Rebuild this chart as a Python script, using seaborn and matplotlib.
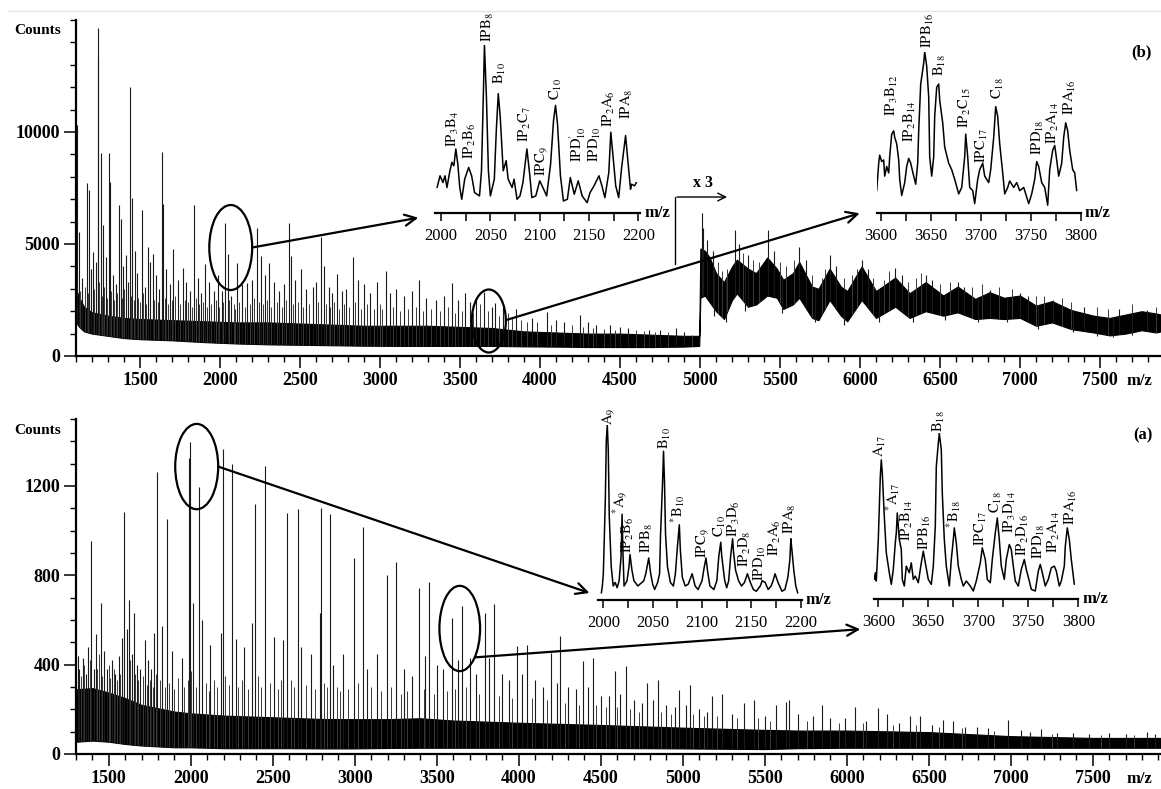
import matplotlib
matplotlib.use("Agg")
import matplotlib.pyplot as plt
from matplotlib.patches import Ellipse
from matplotlib.lines import Line2D
from matplotlib.ticker import MultipleLocator
import numpy as np
import seaborn as sns

sns.set_theme(style="ticks")
plt.rcParams["font.family"] = ["Liberation Serif", "DejaVu Serif"]
plt.rcParams["mathtext.fontset"] = "stix"
for key in ("axes.edgecolor", "xtick.color", "ytick.color", "text.color", "axes.labelcolor"):
    plt.rcParams[key] = "black"

# ---------------------------------------------------------------- spectrum (b)
# dense noise band of the spectrum: m/z, lower and upper counts
b_band_mz = [1100, 1120, 1150, 1200, 1300, 1400, 1500, 1700, 1900, 2100, 2300, 2500, 2700,
             2900, 3100, 3300, 3500, 3700, 3900, 4100, 4300, 4500, 4700, 4900, 4995,
             5002, 5030, 5060, 5100, 5150, 5200, 5230, 5300, 5350, 5420, 5480, 5520, 5580,
             5620, 5700, 5740, 5810, 5880, 5920, 6010, 6100, 6220, 6310, 6410, 6520, 6610,
             6720, 6810, 6900, 7000, 7100, 7200, 7320, 7460, 7560, 7660, 7760, 7850, 7881]
b_band_lo = [1500, 1300, 1100, 1000, 900, 800, 750, 700, 620, 560, 520, 500, 480,
             460, 450, 450, 450, 450, 430, 420, 400, 400, 400, 420, 450,
             2600, 2700, 2400, 2000, 1650, 2500, 2800, 2200, 2300, 2700, 2600, 2100, 2300,
             2600, 1700, 1600, 2500, 1800, 1550, 2500, 1700, 2200, 1700, 2000, 1800, 1950,
             1650, 1700, 1650, 1700, 1350, 1500, 1200, 1050, 920, 1000, 1150, 1050, 1100]
b_band_hi = [3000, 2600, 2200, 1950, 1800, 1700, 1650, 1600, 1550, 1500, 1500, 1450, 1400,
             1350, 1350, 1350, 1300, 1250, 1100, 1050, 1000, 1000, 950, 900, 900,
             4800, 4700, 4400, 3700, 3300, 4000, 4300, 3900, 3700, 4400, 3900, 3400, 3700,
             4200, 3100, 3000, 3900, 3100, 2900, 4000, 2900, 3500, 2800, 3300, 2700, 3100,
             2550, 2850, 2600, 2700, 2250, 2450, 2050, 1800, 1700, 1850, 2000, 1900, 1850]
# resolved peaks of spectrum (b)
b_peak_mz = [1108, 1117, 1140, 1167, 1183, 1195, 1208, 1225, 1237, 1239, 1254, 1267, 1285,
             1308, 1310, 1330, 1350, 1367, 1379, 1395, 1412, 1425, 1437, 1452, 1469, 1480,
             1510, 1530, 1552, 1565, 1579, 1600, 1620, 1635, 1644, 1665, 1690, 1708, 1740,
             1767, 1790, 1815, 1837, 1860, 1880, 1906, 1930, 1960, 1985, 2010, 2033, 2048,
             2070, 2108, 2140, 2171, 2200, 2233, 2258, 2280, 2308, 2340, 2370, 2400, 2433,
             2446, 2470, 2506, 2540, 2580, 2600, 2631, 2648, 2680, 2700, 2733, 2760, 2790,
             2829, 2860, 2900, 2940, 2980, 3035, 3060, 3100, 3150, 3200, 3246, 3290, 3350,
             3400, 3452, 3490, 3529, 3560, 3600, 3652, 3700, 3721, 3770, 3850, 3950, 4042,
             4100, 4150, 4248, 4300, 4350, 4440, 4500, 4550, 4684, 4750, 4851, 4900,
             5010, 5020, 5045, 5080, 5219, 5245, 5300, 5426, 5460, 5621, 5660, 5812, 5850,
             6010, 6050, 6219, 6260, 6412, 6450, 6612, 6650, 6812, 7000, 7050, 7207, 7400,
             7620, 7791]
b_peak_counts = [10310, 5550, 3500, 7720, 7410, 3900, 4640, 4200, 14630, 13370, 9060, 5850, 4400,
                 9060, 7760, 3600, 3200, 6740, 6100, 4000, 4500, 3300, 12020, 7050, 4690, 3700,
                 6520, 3100, 4880, 4200, 4570, 3600, 3000, 9120, 6800, 3900, 3200, 4780, 3400,
                 3950, 3300, 2900, 6740, 3500, 2800, 4100, 3300, 2900, 3600, 2900, 5930, 4560,
                 2700, 4170, 3200, 3280, 3400, 5700, 4460, 3600, 4160, 3300, 2900, 3200, 5950,
                 4470, 3400, 3880, 3000, 3100, 3300, 5330, 4040, 3100, 2800, 3660, 2900, 3000,
                 4430, 3390, 3200, 2800, 3300, 3800, 2800, 3000, 2700, 2900, 3390, 2600, 2500,
                 2700, 3245, 2500, 2800, 2400, 2600, 2870, 2200, 2380, 2200, 2080, 1700, 1980,
                 1600, 1500, 1830, 1500, 1400, 1380, 1300, 1250, 1160, 1150, 1230, 1050,
                 6380, 5700, 5200, 4700, 5620, 5000, 4500, 5620, 4700, 4880, 4300, 4510, 4000,
                 4290, 3900, 3930, 3600, 3620, 3400, 3320, 3100, 2950, 2810, 2700, 2500, 2200,
                 2100, 2050]
# unresolved small peaks riding on the noise band of (b)
b_minor_mz = [1125, 1158, 1175, 1215, 1245, 1260, 1275, 1295, 1320, 1340, 1358, 1388, 1403,
              1445, 1460, 1490, 1500, 1520, 1540, 1590, 1610, 1655, 1675, 1700, 1720, 1750,
              1780, 1800, 1825, 1848, 1870, 1895, 1918, 1945, 1972, 1995, 2020, 2058, 2085,
              2095, 2120, 2155, 2185, 2215, 2245, 2268, 2295, 2320, 2355, 2385, 2415, 2458,
              2485, 2520, 2555, 2615, 2660, 2690, 2715, 2745, 2775, 2805, 2845, 2880, 2920,
              2960, 3000, 3015, 3080, 3125, 3175, 3225, 3270, 3320, 3375, 3425, 3470, 3510,
              3580, 3625, 3675, 3745, 3800, 3825, 3880, 3920, 3980, 4070, 4200, 4270, 4330,
              4400, 4470, 4600, 4650, 4720, 4800, 4950,
              5110, 5140, 5170, 5270, 5330, 5370, 5500, 5540, 5590, 5700, 5760, 5780, 5900,
              5950, 5980, 6080, 6150, 6180, 6300, 6350, 6380, 6500, 6560, 6700, 6760, 6870,
              6950, 7100, 7150, 7260, 7320, 7480, 7550, 7700, 7850]
b_minor_counts = [2900, 3100, 2800, 3000, 3300, 2700, 3100, 2600, 2900, 2500, 2800, 2600, 3000,
                  2700, 2500, 2600, 2400, 2800, 2300, 2500, 2400, 2600, 2300, 2500, 2700, 2300,
                  2500, 2400, 2200, 2600, 2300, 2400, 2200, 2300, 2500, 2200, 2400, 2500, 2300,
                  2100, 2400, 2200, 2300, 2600, 2400, 2300, 2500, 2200, 2400, 2200, 2500, 2300,
                  2400, 2200, 2300, 2400, 2300, 2200, 2400, 2100, 2300, 2200, 2400, 2100, 2300,
                  2100, 2300, 2100, 2200, 2000, 2100, 2200, 2000, 2100, 2000, 2200, 1900, 2000,
                  1900, 2300, 2000, 1800, 1900, 1700, 1600, 1500, 1500, 1400, 1400, 1300, 1250,
                  1200, 1150, 1150, 1100, 1050, 1050, 950,
                  4200, 3800, 3900, 4600, 4300, 4200, 4200, 4000, 4300, 3600, 3500, 3900, 3500,
                  3600, 3900, 3500, 3400, 3800, 3300, 3500, 3700, 3200, 3300, 3100, 3200, 3100,
                  3000, 2700, 2700, 2600, 2400, 2200, 2100, 2300, 2200]
# troughs reaching below the noise band of (b)
b_dip_mz = [5090, 5160, 5280, 5510, 5720, 5900, 6120, 6330, 6530, 6740, 6920, 7110, 7330,
            7480, 7580, 7700]
b_dip_counts = [1800, 1500, 2000, 1900, 1500, 1400, 1500, 1500, 1600, 1500, 1500, 1200, 1050,
                900, 850, 950]

# ---------------------------------------------------------------- spectrum (a)
a_band_mz = [1300, 1400, 1500, 1600, 1700, 1800, 1900, 2000, 2200, 2400, 2600, 2800, 3000,
             3200, 3400, 3600, 4000, 4500, 5000, 5500, 5700, 6000, 6500, 7000, 7500, 7916]
a_band_lo = [55, 60, 55, 45, 38, 34, 30, 30, 26, 26, 26, 25, 25,
             27, 28, 28, 28, 27, 25, 22, 26, 28, 28, 28, 28, 28]
a_band_hi = [290, 295, 275, 250, 220, 205, 190, 182, 172, 167, 162, 157, 156,
             156, 160, 150, 140, 130, 118, 108, 105, 105, 98, 80, 72, 72]
a_peak_mz = [1310, 1320, 1340, 1360, 1375, 1393, 1410, 1423, 1450, 1470, 1490, 1520, 1540,
             1560, 1580, 1595, 1610, 1622, 1640, 1651, 1670, 1690, 1721, 1740, 1760, 1777,
             1796, 1822, 1853, 1883, 1944, 1991, 1994, 2011, 2052, 2069, 2120, 2182, 2194,
             2253, 2273, 2325, 2372, 2393, 2453, 2508, 2565, 2589, 2652, 2675, 2735, 2786,
             2792, 2849, 2870, 2930, 2993, 3052, 3074, 3135, 3194, 3249, 3300, 3350, 3393,
             3430, 3454, 3500, 3540, 3595, 3630, 3652, 3700, 3740, 3794, 3820, 3849, 3900,
             3940, 3991, 4020, 4048, 4100, 4150, 4197, 4230, 4251, 4300, 4350, 4390, 4420,
             4451, 4500, 4550, 4587, 4620, 4652, 4700, 4750, 4784, 4820, 4847, 4900, 4950,
             4979, 5020, 5044, 5100, 5150, 5176, 5241, 5300, 5374, 5433, 5500, 5570, 5632,
             5650, 5700, 5792, 5847, 5900, 5991, 6050, 6120, 6193, 6243, 6320, 6386, 6447,
             6520, 6589, 6650, 6720, 6793, 6860, 6985, 7060, 7120, 7185, 7280, 7380, 7480,
             7600, 7700, 7829, 7880]
a_peak_counts = [440, 380, 430, 360, 480, 954, 380, 537, 674, 460, 380, 420, 360,
                 440, 520, 1082, 560, 690, 450, 633, 400, 380, 512, 420, 380, 543,
                 1264, 572, 1052, 462, 430, 1324, 1399, 677, 1194, 602, 490, 543, 1366,
                 1299, 517, 480, 587, 1119, 1291, 525, 510, 1081, 1097, 480, 450, 630,
                 1101, 1074, 400, 450, 879, 1017, 380, 450, 800, 860, 380, 350, 745,
                 440, 770, 400, 380, 610, 420, 662, 430, 360, 632, 430, 670, 360,
                 330, 482, 360, 490, 330, 300, 452, 320, 527, 300, 290, 415, 300,
                 430, 260, 260, 370, 270, 392, 240, 230, 318, 240, 333, 220, 210,
                 288, 220, 310, 200, 190, 258, 270, 180, 228, 240, 170, 220, 235,
                 243, 180, 168, 220, 160, 160, 210, 150, 205, 180, 140, 168, 168,
                 130, 153, 150, 120, 123, 115, 153, 108, 100, 110, 95, 93, 90,
                 95, 88, 100, 90]
a_minor_mz = [1330, 1350, 1385, 1430, 1440, 1460, 1500, 1510, 1530, 1550, 1570, 1630, 1660,
              1680, 1710, 1730, 1750, 1770, 1790, 1810, 1840, 1870, 1900, 1920, 1960, 1980,
              2000, 2030, 2090, 2110, 2140, 2160, 2210, 2230, 2290, 2310, 2350, 2410, 2430,
              2480, 2530, 2550, 2610, 2630, 2700, 2760, 2810, 2830, 2890, 2910, 2960, 3020,
              3100, 3160, 3220, 3280, 3320, 3420, 3480, 3560, 3610, 3680, 3760, 3880, 3960,
              4080, 4170, 4280, 4370, 4470, 4530, 4600, 4680, 4730, 4870, 4930, 5060, 5130,
              5210, 5330, 5460, 5530, 5760, 5950, 6100, 6280, 6420, 6560, 6700, 6900, 7250,
              7550, 7750]
a_minor_counts = [350, 400, 420, 380, 450, 350, 400, 340, 380, 330, 360, 420, 360,
                  330, 350, 310, 330, 300, 360, 330, 300, 320, 290, 340, 300, 330,
                  370, 300, 320, 280, 330, 300, 350, 310, 300, 330, 290, 350, 300,
                  320, 290, 330, 330, 300, 310, 290, 320, 300, 300, 280, 290, 320,
                  300, 280, 300, 270, 280, 290, 270, 280, 290, 300, 270, 260, 250,
                  250, 240, 230, 220, 220, 210, 210, 200, 190, 190, 180, 180, 170,
                  170, 160, 160, 150, 150, 140, 140, 130, 130, 120, 115, 105, 90,
                  85, 85]

# ---------------------------------------------------------------- expanded regions
# (b) 2000-2200
b1_mz = [1996, 1999, 2002, 2004, 2006, 2009, 2011, 2013, 2015, 2017, 2019, 2021, 2024, 2028,
         2031, 2034, 2039, 2041, 2043, 2044, 2046, 2048, 2050, 2054, 2056, 2058, 2060, 2063,
         2066, 2068, 2072, 2074, 2077, 2080, 2083, 2087, 2090, 2092, 2096, 2100, 2104, 2107,
         2111, 2114, 2116, 2118, 2121, 2124, 2128, 2131, 2135, 2139, 2143, 2148, 2151, 2155,
         2160, 2163, 2166, 2170, 2172, 2175, 2177, 2180, 2183, 2187, 2189, 2192, 2193, 2196, 2198]
b1_int = [15, 22, 18, 22, 15, 25, 30, 28, 38, 29, 15, 8, 20, 27,
          22, 12, 10, 25, 73, 100, 69, 25, 10, 20, 49, 71, 57, 25,
          31, 20, 15, 20, 8, 10, 18, 38, 22, 9, 10, 19, 14, 10,
          29, 55, 64, 53, 22, 7, 8, 21, 11, 19, 10, 6, 12, 16,
          22, 16, 9, 24, 48, 29, 16, 9, 27, 46, 33, 14, 17, 16, 18]
b1_labels = [r"$\mathrm{IP_3B_4}$", r"$\mathrm{IP_2B_6}$", r"$\mathrm{IPB_8}$", r"$\mathrm{B_{10}}$",
             r"$\mathrm{IP_2C_7}$", r"$\mathrm{IPC_9}$", r"$\mathrm{C_{10}}$",
             r"$\mathrm{IPD}^{\prime}_{10}$", r"$\mathrm{IPD_{10}}$", r"$\mathrm{IP_2A_6}$",
             r"$\mathrm{IPA_8}$"]
b1_label_mz = [2012, 2029, 2048, 2060, 2085, 2102, 2116, 2138, 2156, 2170, 2188]
b1_label_y = [39, 32, 102, 77, 42, 22, 67, 30, 30, 51, 56]

# (b) 3600-3800
b2_mz = [3596, 3598, 3599, 3601, 3603, 3604, 3606, 3608, 3609, 3611, 3613, 3614, 3616, 3618,
         3619, 3621, 3624, 3626, 3628, 3630, 3633, 3635, 3637, 3638, 3640, 3643, 3644, 3646,
         3648, 3649, 3651, 3653, 3654, 3656, 3658, 3659, 3662, 3664, 3668, 3671, 3674, 3678,
         3681, 3684, 3685, 3687, 3689, 3692, 3694, 3697, 3699, 3702, 3704, 3708, 3710, 3713,
         3715, 3717, 3719, 3722, 3724, 3727, 3729, 3733, 3736, 3739, 3743, 3746, 3748, 3751,
         3754, 3756, 3758, 3761, 3764, 3767, 3769, 3772, 3774, 3776, 3778, 3781, 3783, 3785,
         3787, 3789, 3792, 3794, 3796]
b2_int = [14, 31, 36, 32, 33, 23, 29, 25, 35, 49, 51, 47, 43, 33,
          21, 11, 19, 29, 34, 31, 23, 18, 31, 51, 80, 93, 100, 91,
          72, 35, 23, 35, 60, 78, 80, 70, 56, 41, 31, 27, 21, 12,
          16, 35, 49, 35, 16, 14, 6, 21, 27, 31, 23, 19, 27, 47,
          66, 60, 43, 25, 12, 16, 20, 16, 19, 14, 16, 10, 6, 12,
          21, 32, 29, 19, 16, 5, 27, 39, 42, 33, 23, 31, 47, 56,
          51, 39, 27, 25, 14]
b2_labels = [r"$\mathrm{IP_3B_{12}}$", r"$\mathrm{IP_2B_{14}}$", r"$\mathrm{IPB_{16}}$",
             r"$\mathrm{B_{18}}$", r"$\mathrm{IP_2C_{15}}$", r"$\mathrm{IPC_{17}}$",
             r"$\mathrm{C_{18}}$", r"$\mathrm{IPD_{18}}$", r"$\mathrm{IP_2A_{14}}$",
             r"$\mathrm{IPA_{16}}$"]
b2_label_mz = [3611, 3629, 3647, 3659, 3684, 3701, 3717, 3757, 3772, 3789]
b2_label_y = [60, 44, 102, 85, 53, 31, 71, 36, 43, 61]

# (a) 2000-2200
a1_mz = [1998, 1999, 2000, 2002, 2003, 2004, 2005, 2006, 2008, 2010, 2012, 2014, 2016, 2018,
         2019, 2020, 2021, 2024, 2026, 2027, 2029, 2031, 2035, 2037, 2041, 2043, 2046, 2048,
         2050, 2052, 2055, 2057, 2058, 2060, 2061, 2062, 2063, 2065, 2068, 2071, 2073, 2075,
         2077, 2078, 2080, 2083, 2086, 2090, 2093, 2096, 2100, 2102, 2104, 2106, 2108, 2112,
         2115, 2117, 2119, 2120, 2123, 2125, 2127, 2129, 2131, 2132, 2134, 2137, 2140, 2143,
         2146, 2149, 2152, 2155, 2159, 2161, 2164, 2167, 2170, 2172, 2174, 2177, 2181, 2184,
         2187, 2189, 2190, 2191, 2193, 2195, 2197]
a1_int = [4, 8, 15, 57, 91, 100, 86, 48, 19, 8, 10, 7, 11, 25,
          49, 25, 8, 11, 19, 26, 17, 11, 8, 9, 11, 15, 24, 15,
          9, 6, 10, 15, 38, 67, 85, 67, 38, 19, 10, 8, 15, 30,
          43, 29, 13, 8, 9, 15, 8, 6, 11, 18, 24, 15, 8, 6,
          11, 25, 33, 25, 11, 7, 11, 25, 35, 27, 17, 11, 8, 10,
          15, 10, 6, 5, 8, 11, 10, 6, 8, 11, 15, 10, 5, 6,
          13, 23, 35, 29, 17, 8, 4]
a1_labels = [r"$\mathrm{A_9}$", r"${}^{*}\mathrm{A_9}$", r"$\mathrm{IP_2B_6}$", r"$\mathrm{IPB_8}$",
             r"$\mathrm{B_{10}}$", r"${}^{*}\mathrm{B_{10}}$", r"$\mathrm{IPC_9}$",
             r"$\mathrm{C_{10}}$", r"$\mathrm{IP_3D_6}$", r"$\mathrm{IP_2D_8}$",
             r"$\mathrm{IPD_{10}}$", r"$\mathrm{IP_2A_6}$", r"$\mathrm{IPA_8}$"]
a1_label_mz = [2005, 2017, 2025, 2044, 2062, 2075, 2101, 2118.5, 2132.5, 2143, 2159, 2174, 2189]
a1_label_y = [100, 49, 27, 27, 86, 44, 24, 36, 36, 19, 11, 25, 38]

# (a) 3600-3800
a2_mz = [3596, 3597, 3598, 3600, 3602, 3603, 3604, 3606, 3608, 3611, 3613, 3615, 3617, 3618,
         3619, 3621, 3623, 3624, 3626, 3628, 3631, 3633, 3635, 3637, 3640, 3643, 3645, 3647,
         3650, 3653, 3655, 3657, 3658, 3660, 3661, 3663, 3664, 3666, 3668, 3671, 3673, 3675,
         3676, 3678, 3680, 3683, 3685, 3688, 3692, 3695, 3698, 3702, 3704, 3707, 3709, 3712,
         3714, 3717, 3719, 3721, 3723, 3726, 3728, 3731, 3733, 3735, 3737, 3740, 3743, 3746,
         3748, 3751, 3753, 3757, 3760, 3762, 3764, 3767, 3770, 3773, 3776, 3778, 3781, 3783,
         3786, 3787, 3789, 3791, 3793, 3795, 3796]
a2_int = [12, 16, 11, 36, 74, 84, 76, 50, 28, 16, 9, 18, 34, 40,
          52, 36, 30, 12, 8, 20, 16, 22, 12, 14, 10, 22, 29, 22,
          12, 9, 20, 44, 80, 94, 100, 90, 64, 36, 20, 8, 24, 36,
          43, 34, 20, 12, 8, 11, 8, 5, 11, 22, 31, 24, 12, 10,
          24, 40, 49, 36, 20, 12, 24, 33, 30, 20, 11, 8, 18, 24,
          18, 11, 6, 5, 17, 21, 16, 8, 12, 19, 20, 17, 8, 11,
          20, 32, 43, 36, 24, 14, 9]
a2_labels = [r"$\mathrm{A_{17}}$", r"${}^{*}\mathrm{A_{17}}$", r"$\mathrm{IP_2B_{14}}$",
             r"$\mathrm{IPB_{16}}$", r"$\mathrm{B_{18}}$", r"${}^{*}\mathrm{B_{18}}$",
             r"$\mathrm{IPC_{17}}$", r"$\mathrm{C_{18}}$", r"$\mathrm{IP_3D_{14}}$",
             r"$\mathrm{IP_2D_{16}}$", r"$\mathrm{IPD_{18}}$", r"$\mathrm{IP_2A_{14}}$",
             r"$\mathrm{IPA_{16}}$"]
a2_label_mz = [3602, 3614, 3629, 3647, 3661, 3675, 3703, 3717.5, 3732, 3745, 3761, 3776, 3793]
a2_label_y = [86, 53, 35, 30, 101, 43, 32, 52, 40, 26, 24, 28, 45]

# ---------------------------------------------------------------- figure
W, H = 1161, 789
fig = plt.figure(figsize=(W / 100, H / 100), dpi=100)


def box(x0, y0, x1, y1):
    """pixel box measured from the top-left corner -> figure fraction rect"""
    return [x0 / W, 1 - y1 / H, (x1 - x0) / W, (y1 - y0) / H]


def main_axes(rect, xlim, ylim, xmajor, ymajor, yminor):
    ax = fig.add_axes(rect)
    ax.set_facecolor("none")
    ax.set_xlim(*xlim)
    ax.set_ylim(*ylim)
    for s in ("top", "right"):
        ax.spines[s].set_visible(False)
    for s in ("left", "bottom"):
        ax.spines[s].set_linewidth(1.6)
    ax.set_xticks(xmajor, [str(v) for v in xmajor], fontsize=13, fontweight="bold")
    ax.set_yticks(ymajor, [str(v) for v in ymajor], fontsize=13, fontweight="bold")
    ax.xaxis.set_minor_locator(MultipleLocator(100))
    ax.yaxis.set_minor_locator(MultipleLocator(yminor))
    ax.tick_params(which="major", direction="out", length=8.5, width=1.1, pad=3)
    ax.tick_params(which="minor", direction="out", length=4.3, width=1.0)
    ax.grid(False)
    return ax


def draw_spectrum(ax, band_mz, band_lo, band_hi, pk_mz, pk_counts, mn_mz, mn_counts,
                  dip_mz=(), dip_counts=()):
    ax.fill_between(band_mz, band_lo, band_hi, color="black", lw=0.8, zorder=2)
    base = np.interp(mn_mz, band_mz, band_lo)
    ax.vlines(mn_mz, base, mn_counts, color="#3a3a3a", lw=0.7, zorder=2)
    base = np.interp(pk_mz, band_mz, band_lo)
    ax.vlines(pk_mz, base, pk_counts, color="#1a1a1a", lw=0.8, zorder=2)
    if len(dip_mz):
        top = np.interp(dip_mz, band_mz, band_hi)
        ax.vlines(dip_mz, dip_counts, top, color="#1a1a1a", lw=0.8, zorder=2)


def expanded(rect, xlim, mz, inten, labels, lab_mz, lab_y):
    ax = fig.add_axes(rect)
    ax.set_facecolor("none")
    sns.lineplot(x=mz, y=inten, ax=ax, color="black", lw=1.1, estimator=None, sort=False)
    ax.set_xlim(*xlim)
    ax.set_ylim(0, 100)
    for s in ("top", "right", "left"):
        ax.spines[s].set_visible(False)
    ax.spines["bottom"].set_linewidth(1.6)
    ax.set_yticks([])
    ax.set_xlabel("")
    ax.set_ylabel("")
    first = int(np.ceil(xlim[0] / 50.0) * 50)
    major = list(range(first, int(xlim[1]) + 1, 50))
    ax.set_xticks(major, [str(v) for v in major], fontsize=12)
    ax.xaxis.set_minor_locator(MultipleLocator(25))
    ax.tick_params(which="both", direction="out", length=5.8, width=1.1, pad=5)
    for t, x, y in zip(labels, lab_mz, lab_y):
        ax.text(x, y, t, rotation=90, ha="center", va="bottom", fontsize=10.5, clip_on=False)
    ax.annotate("m/z", xy=(1, 0), xycoords="axes fraction", xytext=(3, 0),
                textcoords="offset points", ha="left", va="center",
                fontsize=12, fontweight="bold")
    ax.grid(False)
    return ax


ax_b = main_axes(box(76, 20, 1161, 356), (1100, 7881), (0, 15000),
                 list(range(1500, 7501, 500)), [0, 5000, 10000], 1000)
ax_a = main_axes(box(76, 419, 1161, 754), (1300, 7916), (0, 1500),
                 list(range(1500, 7501, 500)), [0, 400, 800, 1200], 100)

draw_spectrum(ax_b, b_band_mz, b_band_lo, b_band_hi, b_peak_mz, b_peak_counts,
              b_minor_mz, b_minor_counts, b_dip_mz, b_dip_counts)
draw_spectrum(ax_a, a_band_mz, a_band_lo, a_band_hi, a_peak_mz, a_peak_counts,
              a_minor_mz, a_minor_counts)

ins_b1 = expanded(box(435.1, 45, 640.4, 212.7), (1994, 2202), b1_mz, b1_int,
                  b1_labels, b1_label_mz, b1_label_y)
ins_b2 = expanded(box(876.7, 51.7, 1080.7, 213.3), (3596, 3800), b2_mz, b2_int,
                  b2_labels, b2_label_mz, b2_label_y)
ins_a1 = expanded(box(598.4, 425, 801.7, 600), (1995, 2201), a1_mz, a1_int,
                  a1_labels, a1_label_mz, a1_label_y)
ins_a2 = expanded(box(874.3, 433.3, 1078.3, 599.3), (3596, 3800), a2_mz, a2_int,
                  a2_labels, a2_label_mz, a2_label_y)

# circled regions and the arrows leading to their expansions
arrow_kw = dict(arrowstyle="->", lw=1.6, color="black", shrinkA=0, shrinkB=0,
                mutation_scale=20)
for ax, (cx, cy, w, h), start, target, end in [
    (ax_b, (2067, 4843, 268, 3794), (2201, 4843), ins_b1, (1977, -3)),
    (ax_b, (3680, 1562, 213, 2812), (3786, 1600), ins_b2, (3579, 0)),
    (ax_a, (2036, 1287, 262, 382), (2167, 1287), ins_a1, (1986, 4)),
    (ax_a, (3640, 562, 248, 382), (3739, 433), ins_a2, (3582, -18)),
]:
    ax.add_patch(Ellipse((cx, cy), w, h, fill=False, lw=1.6, ec="black",
                         clip_on=False, zorder=4))
    ax.annotate("", xy=end, xycoords=target.transData, xytext=start, textcoords="data",
                arrowprops=arrow_kw, zorder=4)

# "x 3" scale change marker
ax_b.plot([4844, 4844], [4107, 7098], color="black", lw=1.0, zorder=4)
ax_b.annotate("", xy=(5169, 7098), xytext=(4856, 7098),
              arrowprops=dict(arrowstyle="->", lw=1.0, color="black", shrinkA=0,
                              shrinkB=0, mutation_scale=14), zorder=4)
ax_b.text(5019, 7350, "x 3", ha="center", va="bottom", fontsize=11.5, fontweight="bold")

# axis titles and panel tags
fig.text(38 / W, 1 - 30 / H, "Counts", ha="center", va="center", fontsize=11, fontweight="bold")
fig.text(38 / W, 1 - 430 / H, "Counts", ha="center", va="center", fontsize=11, fontweight="bold")
fig.text(1139 / W, 1 - 381 / H, "m/z", ha="center", va="center", fontsize=12, fontweight="bold")
fig.text(1139 / W, 1 - 779 / H, "m/z", ha="center", va="center", fontsize=12, fontweight="bold")
fig.text(1141 / W, 1 - 52 / H, "(b)", ha="center", va="center", fontsize=12, fontweight="bold")
fig.text(1143 / W, 1 - 435 / H, "(a)", ha="center", va="center", fontsize=12, fontweight="bold")

fig.add_artist(Line2D([8 / W, 1], [1 - 11 / H, 1 - 11 / H], color="#e6e6e6", lw=1.0,
                      transform=fig.transFigure))

fig.savefig("out.png", dpi=100)
